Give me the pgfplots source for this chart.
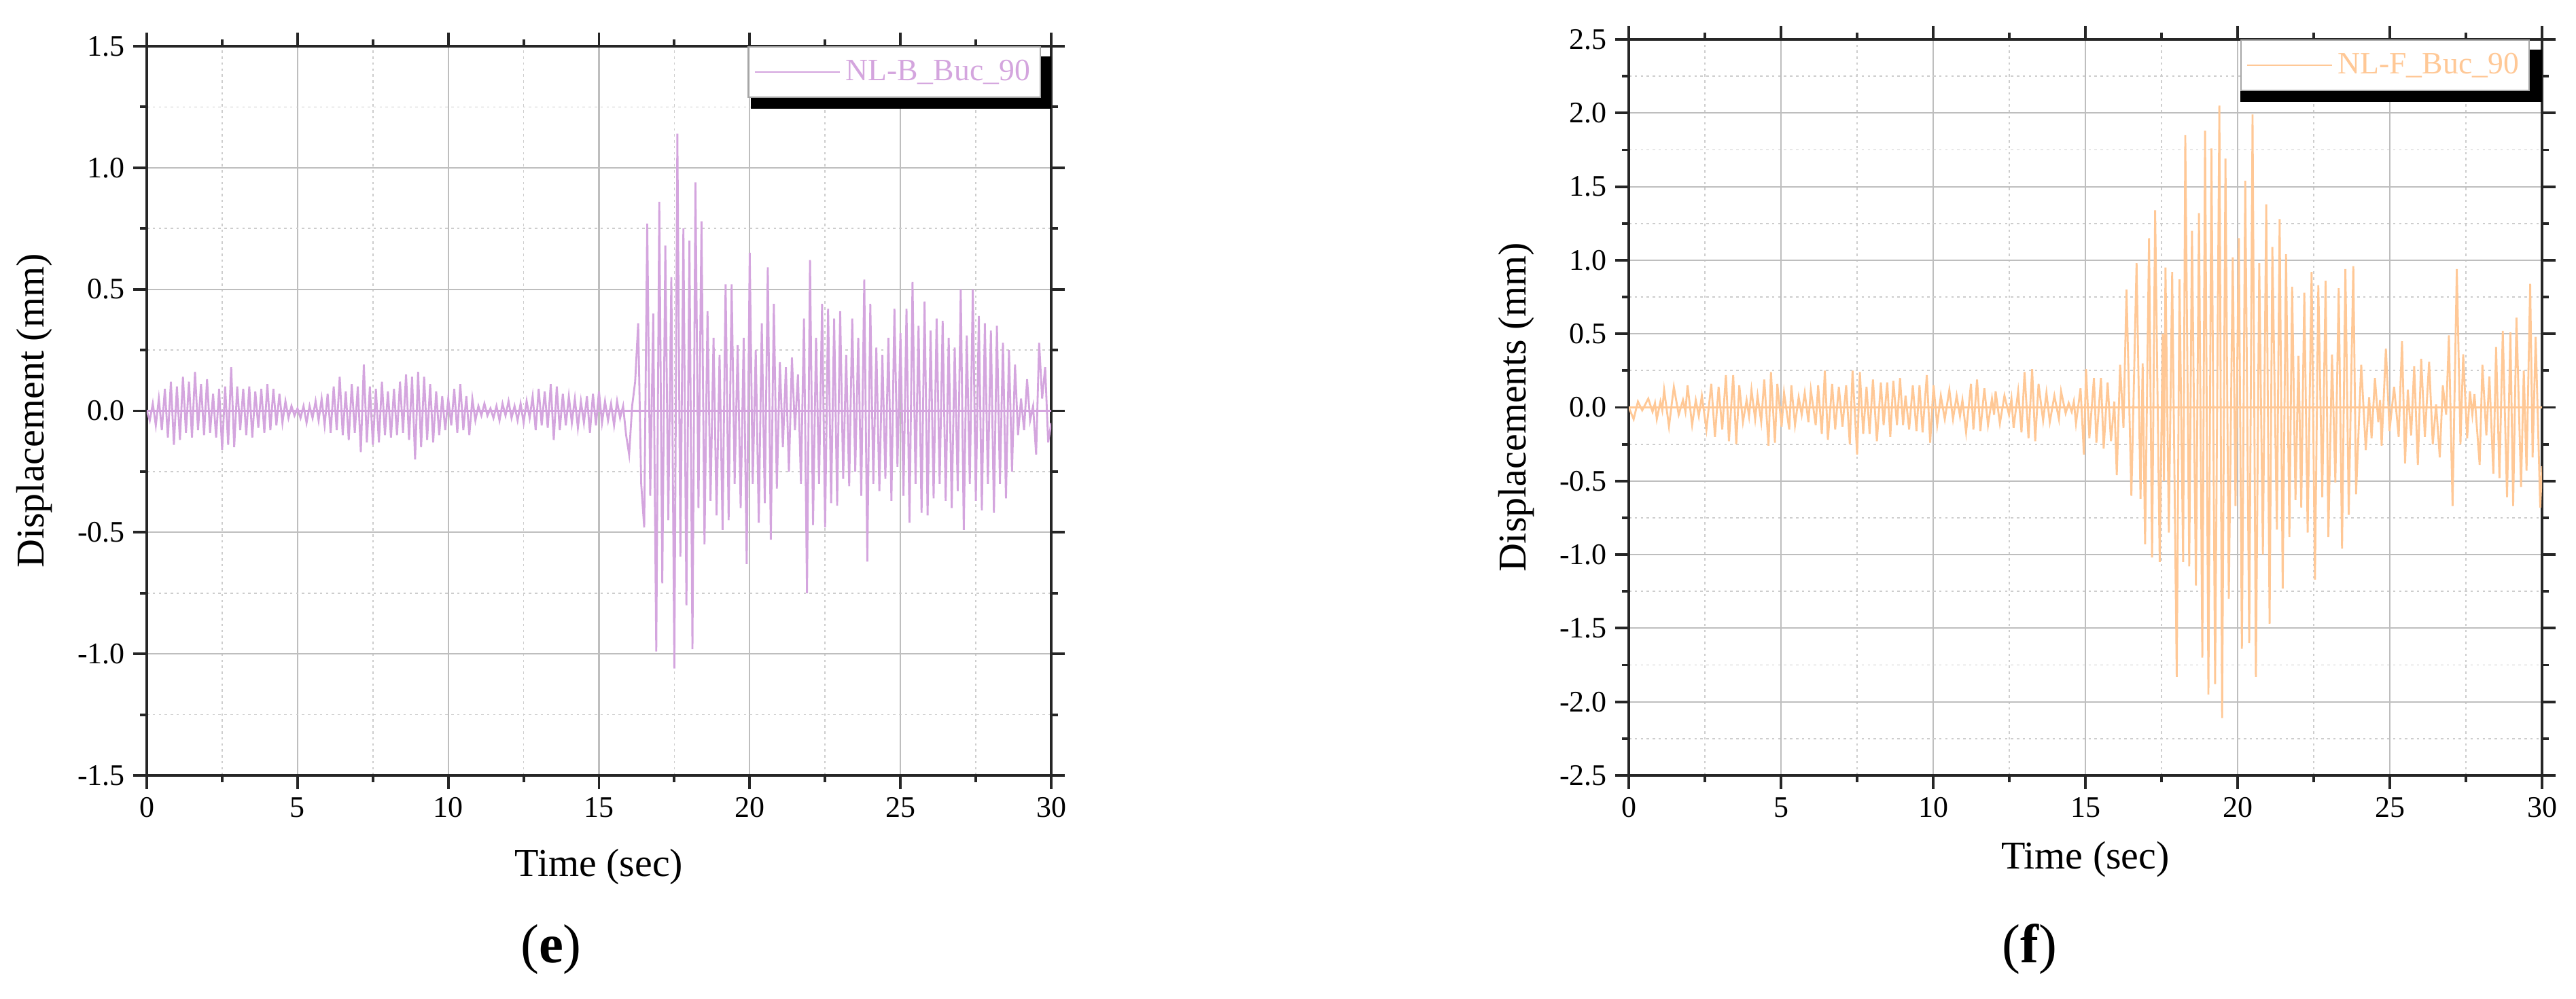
\documentclass[border=0pt]{standalone}
\usepackage{pgfplots}
\usepackage{pgfplotstable}
\pgfplotsset{compat=1.18}
\usepackage{fontspec}
\setmainfont{Liberation Serif}
\definecolor{lil}{RGB}{212,165,222}
\definecolor{ora}{RGB}{255,200,150}
\definecolor{gridmaj}{RGB}{190,190,190}
\definecolor{gridmin}{RGB}{205,205,205}

\pgfplotstableread[row sep=\\]{t d\\
0 0.00\\0.1 -0.04\\0.2 0.03\\0.3 -0.06\\0.4 0.05\\0.5 -0.08\\0.6 0.09\\0.7 -0.11\\0.8 0.12\\0.9 -0.14\\
1.0 0.10\\1.1 -0.12\\1.2 0.14\\1.3 -0.09\\1.4 0.12\\1.5 -0.11\\1.6 0.16\\1.7 -0.08\\1.8 0.11\\1.9 -0.10\\
2.0 0.13\\2.1 -0.09\\2.2 0.07\\2.3 -0.11\\2.4 0.09\\2.5 -0.16\\2.6 0.10\\2.7 -0.14\\2.8 0.18\\2.9 -0.15\\
3.0 0.10\\3.1 -0.08\\3.2 0.09\\3.3 -0.10\\3.4 0.10\\3.5 -0.11\\3.6 0.08\\3.7 -0.07\\3.8 0.09\\3.9 -0.09\\
4.0 0.11\\4.1 -0.08\\4.2 0.09\\4.3 -0.06\\4.4 0.07\\4.5 -0.05\\4.6 0.04\\4.7 -0.03\\4.8 0.02\\4.9 -0.02\\
5.0 0.01\\5.1 -0.03\\5.2 0.02\\5.3 -0.05\\5.4 0.02\\5.5 -0.03\\5.6 0.04\\5.7 -0.04\\5.8 0.05\\5.9 -0.06\\
6.0 0.07\\6.1 -0.09\\6.2 0.10\\6.3 -0.08\\6.4 0.14\\6.5 -0.10\\6.6 0.08\\6.7 -0.12\\6.8 0.11\\6.9 -0.09\\
7.0 0.10\\7.1 -0.17\\7.2 0.19\\7.3 -0.13\\7.4 0.10\\7.5 -0.14\\7.6 0.09\\7.7 -0.13\\7.8 0.12\\7.9 -0.10\\
8.0 0.08\\8.1 -0.11\\8.2 0.09\\8.3 -0.10\\8.4 0.12\\8.5 -0.09\\8.6 0.15\\8.7 -0.12\\8.8 0.14\\8.9 -0.20\\
9.0 0.16\\9.1 -0.15\\9.2 0.14\\9.3 -0.12\\9.4 0.11\\9.5 -0.13\\9.6 0.08\\9.7 -0.10\\9.8 0.06\\9.9 -0.08\\
10.0 0.05\\10.1 -0.06\\10.2 0.09\\10.3 -0.09\\10.4 0.11\\10.5 -0.08\\10.6 0.06\\10.7 -0.10\\10.8 0.05\\10.9 -0.04\\
11.0 0.02\\11.1 -0.02\\11.2 0.03\\11.3 -0.02\\11.4 0.01\\11.5 -0.03\\11.6 0.02\\11.7 -0.04\\11.8 0.03\\11.9 -0.02\\
12.0 0.04\\12.1 -0.03\\12.2 0.02\\12.3 -0.04\\12.4 0.03\\12.5 -0.05\\12.6 0.04\\12.7 -0.03\\12.8 0.06\\12.9 -0.08\\
13.0 0.09\\13.1 -0.06\\13.2 0.08\\13.3 -0.07\\13.4 0.11\\13.5 -0.12\\13.6 0.10\\13.7 -0.08\\13.8 0.07\\13.9 -0.06\\
14.0 0.06\\14.1 -0.05\\14.2 0.05\\14.3 -0.07\\14.4 0.04\\14.5 -0.05\\14.6 0.06\\14.7 -0.09\\14.8 0.07\\14.9 -0.06\\
15.0 0.08\\15.1 -0.05\\15.2 0.04\\15.3 -0.04\\15.4 0.03\\15.5 -0.06\\15.6 0.04\\15.7 -0.03\\15.8 0.02\\15.9 -0.10\\
16.0 -0.18\\16.1 0.02\\16.2 0.12\\16.3 0.36\\16.4 -0.30\\16.5 -0.48\\16.6 0.77\\16.7 -0.35\\16.8 0.40\\16.9 -0.99\\
17.0 0.86\\17.1 -0.71\\17.2 0.68\\17.3 -0.45\\17.4 0.55\\17.5 -1.06\\17.6 1.14\\17.7 -0.60\\17.8 0.75\\17.9 -0.80\\
18.0 0.70\\18.1 -0.98\\18.2 0.94\\18.3 -0.40\\18.4 0.78\\18.5 -0.55\\18.6 0.41\\18.7 -0.37\\18.8 0.30\\18.9 -0.43\\
19.0 0.23\\19.1 -0.49\\19.2 0.52\\19.3 -0.45\\19.4 0.52\\19.5 -0.30\\19.6 0.27\\19.7 -0.40\\19.8 0.30\\19.9 -0.63\\
20.0 0.65\\20.1 -0.30\\20.2 0.25\\20.3 -0.46\\20.4 0.36\\20.5 -0.38\\20.6 0.59\\20.7 -0.53\\20.8 0.44\\20.9 -0.32\\
21.0 0.20\\21.1 -0.15\\21.2 0.18\\21.3 -0.25\\21.4 0.22\\21.5 -0.08\\21.6 0.15\\21.7 -0.30\\21.8 0.38\\21.9 -0.75\\
22.0 0.62\\22.1 -0.47\\22.2 0.30\\22.3 -0.30\\22.4 0.44\\22.5 -0.48\\22.6 0.42\\22.7 -0.38\\22.8 0.38\\22.9 -0.39\\
23.0 0.41\\23.1 -0.28\\23.2 0.23\\23.3 -0.31\\23.4 0.38\\23.5 -0.25\\23.6 0.30\\23.7 -0.35\\23.8 0.54\\23.9 -0.62\\
24.0 0.44\\24.1 -0.30\\24.2 0.26\\24.3 -0.33\\24.4 0.23\\24.5 -0.28\\24.6 0.30\\24.7 -0.37\\24.8 0.42\\24.9 -0.23\\
25.0 0.32\\25.1 -0.35\\25.2 0.42\\25.3 -0.46\\25.4 0.53\\25.5 -0.30\\25.6 0.35\\25.7 -0.42\\25.8 0.45\\25.9 -0.43\\
26.0 0.33\\26.1 -0.36\\26.2 0.38\\26.3 -0.30\\26.4 0.37\\26.5 -0.37\\26.6 0.30\\26.7 -0.40\\26.8 0.26\\26.9 -0.33\\
27.0 0.50\\27.1 -0.49\\27.2 0.31\\27.3 -0.30\\27.4 0.50\\27.5 -0.37\\27.6 0.39\\27.7 -0.41\\27.8 0.36\\27.9 -0.30\\
28.0 0.33\\28.1 -0.42\\28.2 0.35\\28.3 -0.30\\28.4 0.28\\28.5 -0.36\\28.6 0.25\\28.7 -0.25\\28.8 0.19\\28.9 -0.10\\
29.0 0.05\\29.1 -0.08\\29.2 0.13\\29.3 -0.04\\29.4 0.02\\29.5 -0.18\\29.6 0.28\\29.7 0.05\\29.8 0.18\\29.9 -0.13\\30.0 -0.05\\
}\leftdata

\pgfplotstableread[row sep=\\]{t d\\
0 0\\0.16 -0.08\\0.30 0.04\\0.44 -0.02\\0.64 0.06\\0.78 -0.03\\0.86 0.03\\0.92 -0.08\\1.04 0.04\\1.10 -0.02\\
1.16 0.12\\1.32 -0.13\\1.48 0.14\\1.64 -0.05\\1.78 0.05\\1.86 -0.03\\1.93 0.15\\2.08 -0.12\\2.20 0.05\\2.30 -0.06\\
2.40 0.08\\2.55 -0.15\\2.71 0.16\\2.83 -0.20\\2.95 0.14\\3.07 -0.15\\3.19 0.22\\3.29 -0.23\\3.43 0.22\\3.53 -0.25\\
3.63 0.15\\3.75 -0.10\\3.87 0.05\\3.95 -0.06\\4.03 0.12\\4.15 -0.08\\4.23 0.08\\4.35 -0.10\\4.45 0.19\\4.59 -0.26\\
4.67 0.24\\4.80 -0.24\\4.88 0.16\\5.02 -0.13\\5.10 0.10\\5.27 -0.15\\5.34 0.15\\5.46 -0.12\\5.58 0.07\\5.68 -0.05\\
5.78 0.10\\5.90 -0.10\\5.98 0.12\\6.14 -0.12\\6.22 0.15\\6.34 -0.18\\6.44 0.25\\6.54 -0.22\\6.68 0.16\\6.78 -0.15\\
6.90 0.14\\7.02 -0.13\\7.14 0.15\\7.26 -0.25\\7.35 0.25\\7.50 -0.32\\7.59 0.24\\7.70 -0.18\\7.81 0.14\\7.91 -0.18\\
8.02 0.19\\8.15 -0.23\\8.28 0.17\\8.37 -0.12\\8.49 0.17\\8.59 -0.20\\8.69 0.18\\8.81 -0.12\\8.91 0.20\\9.01 -0.12\\
9.09 0.08\\9.21 -0.15\\9.33 0.15\\9.45 -0.16\\9.55 0.15\\9.65 -0.17\\9.79 0.22\\9.90 -0.24\\10.01 0.15\\10.13 -0.12\\
10.25 0.08\\10.38 -0.08\\10.53 0.12\\10.65 -0.08\\10.77 0.08\\10.88 -0.06\\10.96 0.05\\11.08 -0.17\\11.24 0.16\\11.32 -0.15\\
11.44 0.19\\11.55 -0.16\\11.68 0.13\\11.80 -0.12\\11.93 0.06\\12.00 -0.05\\12.05 0.11\\12.19 -0.11\\12.34 0.08\\12.49 -0.05\\
12.57 0.06\\12.64 -0.14\\12.79 0.11\\12.90 -0.17\\13.00 0.24\\13.13 -0.21\\13.25 0.26\\13.35 -0.23\\13.46 0.16\\13.61 -0.09\\
13.72 0.10\\13.83 -0.10\\13.98 0.08\\14.13 -0.08\\14.20 0.11\\14.35 -0.04\\14.45 0.03\\14.55 -0.03\\14.62 0.04\\14.69 -0.11\\
14.84 0.13\\14.95 -0.32\\15.02 0.26\\15.13 -0.21\\15.28 0.20\\15.36 -0.24\\15.51 0.20\\15.60 -0.28\\15.73 0.17\\15.84 -0.23\\
15.95 0.04\\16.03 -0.46\\16.14 0.29\\16.25 -0.14\\16.35 0.80\\16.51 -0.60\\16.68 0.98\\16.81 -0.62\\16.88 0.30\\16.96 -0.93\\
17.09 1.15\\17.19 -1.02\\17.29 1.34\\17.44 -1.05\\17.54 0.50\\17.58 -0.50\\17.63 0.95\\17.74 -0.85\\17.85 0.92\\18.00 -1.83\\
18.09 0.87\\18.21 -1.05\\18.28 1.85\\18.41 -1.08\\18.50 1.20\\18.63 -1.21\\18.73 1.32\\18.84 -1.70\\18.93 1.88\\19.04 -1.95\\
19.14 1.76\\19.26 -1.88\\19.40 2.05\\19.49 -2.11\\19.60 1.69\\19.71 -1.30\\19.84 1.02\\19.93 -0.67\\20.04 1.15\\20.14 -1.64\\
20.25 1.54\\20.38 -1.60\\20.49 1.99\\20.60 -1.83\\20.71 0.98\\20.83 -1.00\\20.94 1.38\\21.05 -1.47\\21.14 1.09\\21.29 -0.83\\
21.38 1.28\\21.48 -1.23\\21.59 1.04\\21.70 -0.88\\21.79 0.82\\21.90 -0.63\\22.00 0.35\\22.09 -0.68\\22.19 0.78\\22.30 -0.85\\
22.43 0.92\\22.54 -1.17\\22.65 0.83\\22.78 -0.61\\22.89 0.86\\22.98 -0.88\\23.10 0.36\\23.21 -0.51\\23.32 0.81\\23.43 -0.96\\
23.54 0.94\\23.65 -0.73\\23.80 0.96\\23.89 -0.59\\24.06 0.29\\24.21 -0.29\\24.32 0.07\\24.40 -0.21\\24.51 0.20\\24.62 -0.10\\
24.68 0.05\\24.73 -0.26\\24.87 0.40\\24.99 -0.16\\25.14 0.14\\25.29 -0.20\\25.40 0.45\\25.50 -0.38\\25.59 0.12\\25.70 -0.19\\
25.80 0.28\\25.92 -0.39\\26.03 0.33\\26.15 -0.20\\26.29 0.31\\26.41 -0.25\\26.52 0.02\\26.64 -0.34\\26.74 0.15\\26.85 -0.05\\
26.94 0.49\\27.06 -0.67\\27.20 0.94\\27.32 -0.25\\27.41 0.36\\27.54 -0.21\\27.63 0.11\\27.71 -0.05\\27.78 0.09\\27.95 -0.39\\
28.04 0.29\\28.17 -0.19\\28.27 0.21\\28.40 -0.45\\28.49 0.41\\28.60 -0.48\\28.71 0.52\\28.85 -0.61\\28.96 0.51\\29.05 -0.67\\
29.16 0.61\\29.31 -0.54\\29.40 0.25\\29.49 -0.43\\29.61 0.84\\29.69 -0.34\\29.79 0.48\\29.94 -0.68\\30.00 -0.40\\
}\rightdata

\pgfplotsset{
  dispaxis/.style={
    scale only axis,
    xmin=0, xmax=30,
    xtick={0,5,10,15,20,25,30},
    minor x tick num=1,
    minor y tick num=1,
    grid=both,
    major grid style={draw=gridmaj, line width=0.6pt},
    minor grid style={draw=gridmin, dashed, dash pattern=on 1pt off 1.5pt, line width=0.5pt},
    axis line style={line width=1.2pt, black!85},
    tick align=outside,
    major tick length=2mm,
    minor tick length=1mm,
    every tick/.style={black!85, line width=1.1pt},
    tick label style={font=\fontsize{12.5}{14}\selectfont},
    /pgf/number format/assume math mode=true,
    xlabel={Time (sec)},
    legend style={
      anchor=north east,
      draw=gray!70, line width=0.6pt, fill=white,
      inner xsep=0.8mm, inner ysep=1.2mm,
      font=\fontsize{13}{15}\selectfont,
      legend cell align=left,
    },
    legend image code/.code={\draw[#1, line width=0.8pt] (0mm,0mm) -- (12.5mm,0mm);},
  }
}

\begin{document}
\begin{tikzpicture}
\path[use as bounding box] (0,0) rectangle (379.1mm,146.9mm);

\begin{axis}[dispaxis,
  at={(21.6mm,32.8mm)}, anchor=south west,
  width=133.1mm, height=107.3mm,
  ymin=-1.5, ymax=1.5,
  ytick={-1.5,-1,-0.5,0,0.5,1,1.5},
  yticklabels={-1.5,-1.0,-0.5,0.0,0.5,1.0,1.5},
  ylabel={Displacement (mm)},
  every axis y label/.style={at={(axis description cs:-0.124,0.5)}, rotate=90, anchor=center, font=\fontsize{16.5}{19}\selectfont},
  every axis x label/.style={at={(axis description cs:0.5,-0.125)}, anchor=center, font=\fontsize{16.5}{19}\selectfont},
  legend style={at={(rel axis cs:0.9887,1)}, text=lil},
]
\addplot[lil, line width=0.8pt] table[x=t, y=d] {\leftdata};
\addlegendentry{NL-B\_Buc\_90}
\addplot[lil, line width=0.8pt, forget plot] coordinates {(0,0) (30,0)};
\fill[black] (rel axis cs:0.668,0.986) rectangle (rel axis cs:1,0.914);
\end{axis}

\begin{axis}[dispaxis,
  at={(239.7mm,32.8mm)}, anchor=south west,
  width=134.4mm, height=108.3mm,
  ymin=-2.5, ymax=2.5,
  ytick={-2.5,-2,-1.5,-1,-0.5,0,0.5,1,1.5,2,2.5},
  yticklabels={-2.5,-2.0,-1.5,-1.0,-0.5,0.0,0.5,1.0,1.5,2.0,2.5},
  ylabel={Displacements (mm)},
  every axis y label/.style={at={(axis description cs:-0.1228,0.5)}, rotate=90, anchor=center, font=\fontsize{16.5}{19}\selectfont},
  every axis x label/.style={at={(axis description cs:0.5,-0.1145)}, anchor=center, font=\fontsize{16.5}{19}\selectfont},
  legend style={at={(rel axis cs:0.9866,1)}, text=ora},
]
\addplot[ora, line width=0.8pt] table[x=t, y=d] {\rightdata};
\addlegendentry{NL-F\_Buc\_90}
\addplot[ora, line width=0.8pt, forget plot] coordinates {(0,0) (30,0)};
\fill[black] (rel axis cs:0.6696,0.986) rectangle (rel axis cs:1,0.915);
\end{axis}

\node[font=\fontsize{23}{26}\selectfont] at (81.1mm,7.2mm) {(\textbf{e})};
\node[font=\fontsize{23}{26}\selectfont] at (298.7mm,7.2mm) {(\textbf{f})};
\end{tikzpicture}
\end{document}
